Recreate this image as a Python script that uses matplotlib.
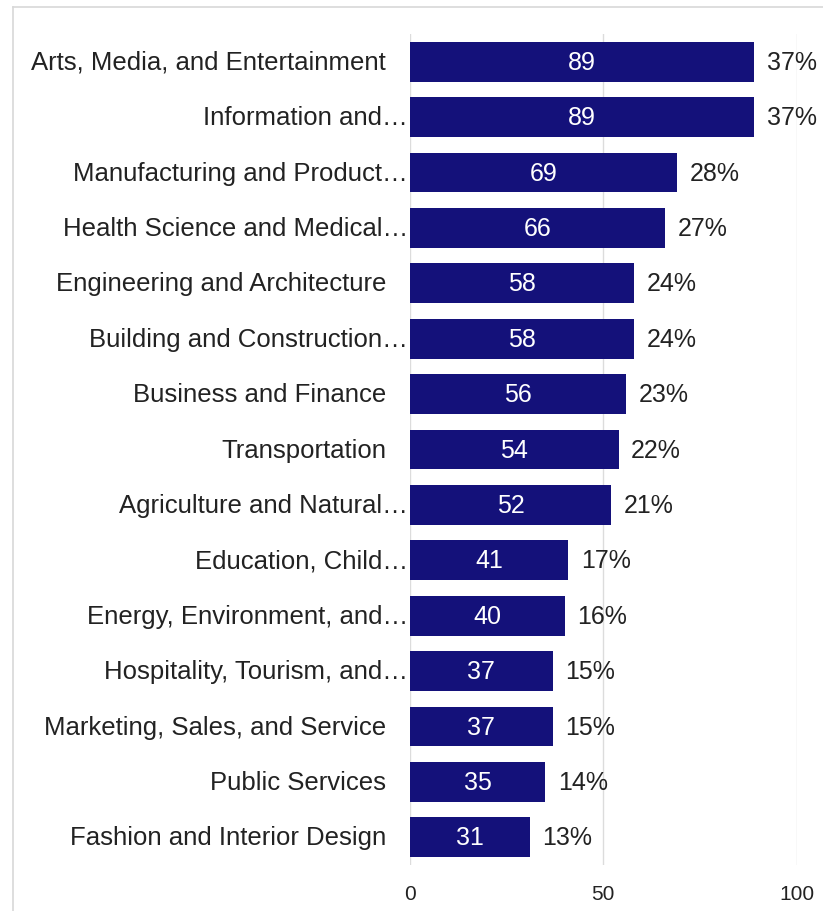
import matplotlib.pyplot as plt
import matplotlib.transforms as mtransforms
from matplotlib.lines import Line2D

plt.rcParams['font.family'] = ['Liberation Sans', 'DejaVu Sans']

categories = [
    "Arts, Media, and Entertainment",
    "Information and\u2026",
    "Manufacturing and Product\u2026",
    "Health Science and Medical\u2026",
    "Engineering and Architecture",
    "Building and Construction\u2026",
    "Business and Finance",
    "Transportation",
    "Agriculture and Natural\u2026",
    "Education, Child\u2026",
    "Energy, Environment, and\u2026",
    "Hospitality, Tourism, and\u2026",
    "Marketing, Sales, and Service",
    "Public Services",
    "Fashion and Interior Design",
]
counts = [89, 89, 69, 66, 58, 58, 56, 54, 52, 41, 40, 37, 37, 35, 31]
percents = ["37%", "37%", "28%", "27%", "24%", "24%", "23%", "22%",
            "21%", "17%", "16%", "15%", "15%", "14%", "13%"]
xticks = [0, 50, 100]

bar_color = "#14117a"
text_color = "#222222"

fig = plt.figure(figsize=(8.23, 9.12), dpi=100)
ax = fig.add_axes([0.498, 0.0504, 0.470, 0.9112])

y = list(range(len(categories)))
ax.barh(y, counts, height=0.72, color=bar_color, zorder=3)
ax.set_xlim(0, 100)
ax.set_ylim(len(categories) - 0.5, -0.5)

for i, (c, p) in enumerate(zip(counts, percents)):
    ax.text(c / 2, i, str(c), ha="center", va="center", color="white",
            fontsize=18, zorder=4)
    ax.annotate(p, (c, i), xytext=(9, 0), textcoords="offset points",
                ha="left", va="center", color=text_color, fontsize=18)

# category labels, truncated ones run up to the axis
ax.set_yticks([])
for i, name in enumerate(categories):
    off = -1.5 if name.endswith("\u2026") else -17
    trans = mtransforms.offset_copy(ax.get_yaxis_transform(), fig=fig,
                                    x=off, y=0, units="points")
    ax.text(0, i, name, transform=trans, ha="right", va="center",
            color=text_color, fontsize=18.5)

ax.set_xticks(xticks)
ax.tick_params(axis="x", length=0, pad=14, labelsize=15, labelcolor=text_color)
ax.grid(axis="x", color="#dcdcdc", linewidth=1, zorder=0)
for s in ax.spines.values():
    s.set_visible(False)

# outer frame along top and left edges
fig.add_artist(Line2D([13 / 823, 1], [1 - 8 / 912, 1 - 8 / 912],
                      color="#d8d8d8", linewidth=1.2))
fig.add_artist(Line2D([13 / 823, 13 / 823], [0, 1 - 8 / 912],
                      color="#d8d8d8", linewidth=1.2))

fig.savefig("out.png", dpi=100, facecolor="white")
